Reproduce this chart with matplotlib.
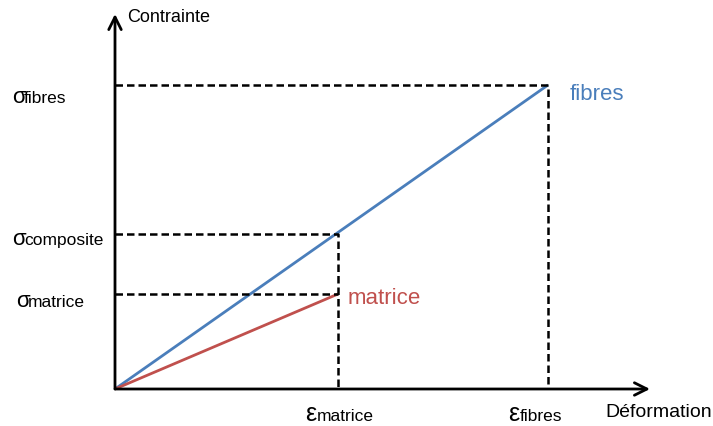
import matplotlib.pyplot as plt

plt.rcParams['font.family'] = ['Liberation Sans', 'DejaVu Sans']

# Strain / stress values (arbitrary units)
eps_matrice = 223
eps_fibres = 433
sig_fibres = 304
sig_composite = 155
sig_matrice = 95

blue = '#4a7ebb'
red = '#c0504d'

fig = plt.figure(figsize=(7.13, 4.27), dpi=100)
W, H = 713, 427
x0, y0 = 115, 390
ax = fig.add_axes([0, 0, 1, 1])
ax.set_xlim(-x0, W - x0)
ax.set_ylim(y0 - H, y0)
ax.axis('off')

# axes with open arrow heads
arrow = dict(arrowstyle='->,head_length=0.9,head_width=0.45', lw=2, color='black',
             shrinkA=0, shrinkB=0)
ax.annotate('', xy=(0, 375), xytext=(0, 0), arrowprops=arrow)
ax.annotate('', xy=(535, 0), xytext=(0, 0), arrowprops=arrow)

# stress-strain lines
ax.plot([0, eps_fibres], [0, sig_fibres], color=blue, lw=2, solid_capstyle='butt')
ax.plot([0, eps_matrice], [0, sig_matrice], color=red, lw=2, solid_capstyle='butt')

# guide lines
dash = dict(color='black', lw=1.8, ls=(0, (3, 1.6)))
ax.plot([0, eps_fibres, eps_fibres], [sig_fibres, sig_fibres, 0], **dash)
ax.plot([0, eps_matrice, eps_matrice], [sig_composite, sig_composite, 0], **dash)
ax.plot([0, eps_matrice], [sig_matrice, sig_matrice], **dash)

# axis titles and curve names
ax.text(12, 373, 'Contrainte', fontsize=13, ha='left', va='center')
ax.text(597, -23, 'Déformation', fontsize=14, ha='right', va='center')
ax.text(eps_fibres + 22, sig_fibres - 9, 'fibres', fontsize=16, color=blue, va='center')
ax.text(eps_matrice + 10, sig_matrice - 4, 'matrice', fontsize=16, color=red, va='center')


def sym_label(x, y, sym, word, gap, size=16):
    ax.text(x, y, sym, fontsize=size, ha='left', va='baseline')
    ax.text(x + gap, y, word, fontsize=12.5, ha='left', va='baseline')


sym_label(-103, sig_fibres - 17, 'σ', 'fibres', 12)
sym_label(-103, sig_composite - 10, 'σ', 'composite', 12)
sym_label(-99, sig_matrice - 12, 'σ', 'matrice', 12)
sym_label(eps_matrice - 33, -31, 'ε', 'matrice', 12, 18)
sym_label(eps_fibres - 40, -31, 'ε', 'fibres', 12, 18)

fig.savefig('out.png', dpi=100)
